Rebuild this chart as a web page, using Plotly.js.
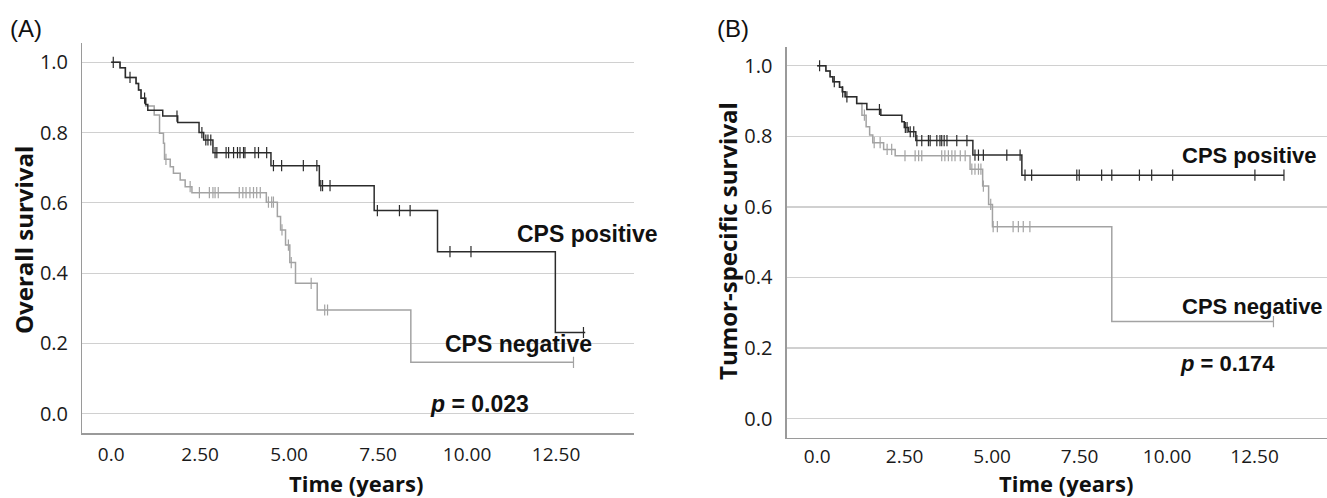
<!DOCTYPE html>
<html>
<head>
<meta charset="utf-8">
<script src="https://cdn.plot.ly/plotly-3.0.1.min.js"></script>
<style>html,body{margin:0;padding:0;background:#fff;}#chart{width:1327px;height:498px;}</style>
</head>
<body>
<div id="chart"></div>
<script>
// ---------- Panel A: Overall survival ----------
var posA_time = [0, 0.25, 0.40, 0.70, 0.77, 0.84, 0.97, 1.03, 1.45, 1.87, 2.47, 2.60, 2.86, 4.49, 5.85, 7.39, 9.17, 12.48, 13.32];
var posA_surv = [1.0, 0.985, 0.957, 0.940, 0.921, 0.898, 0.880, 0.864, 0.847, 0.829, 0.800, 0.779, 0.743, 0.706, 0.649, 0.578, 0.461, 0.231, 0.231];
var posA_cens = [0.06, 0.53, 0.94, 1.85, 2.55, 2.66, 2.72, 2.80, 2.92, 2.97, 3.23, 3.30, 3.44, 3.55, 3.62, 3.72, 3.76, 4.04, 4.14, 4.37, 4.56, 4.79, 5.40, 5.78, 5.89, 5.94, 6.15, 7.48, 8.10, 8.40, 9.52, 10.11, 13.27];

var negA_time = [0, 0.25, 0.40, 0.70, 0.77, 0.84, 0.97, 1.21, 1.36, 1.47, 1.50, 1.66, 1.75, 1.94, 2.08, 2.27, 4.36, 4.67, 4.76, 4.90, 5.02, 5.18, 5.79, 8.42, 13.0];
var negA_surv = [1.0, 0.985, 0.957, 0.940, 0.921, 0.898, 0.876, 0.850, 0.798, 0.770, 0.724, 0.703, 0.684, 0.665, 0.646, 0.629, 0.602, 0.561, 0.523, 0.480, 0.430, 0.371, 0.295, 0.146, 0.146];
var negA_cens = [1.54, 2.22, 2.48, 2.76, 2.86, 2.92, 3.01, 3.60, 3.70, 3.79, 3.90, 4.00, 4.09, 4.19, 4.42, 4.51, 4.56, 4.80, 4.98, 5.06, 5.62, 6.00, 6.08, 12.99];

// ---------- Panel B: Tumor-specific survival ----------
var posB_time = [0, 0.25, 0.37, 0.45, 0.64, 0.72, 0.80, 1.13, 1.42, 1.82, 2.42, 2.49, 2.61, 2.82, 4.45, 5.85, 13.34];
var posB_surv = [1.0, 0.985, 0.969, 0.955, 0.939, 0.926, 0.912, 0.893, 0.876, 0.860, 0.841, 0.825, 0.813, 0.788, 0.747, 0.690, 0.690];
var posB_cens = [0.07, 0.49, 0.73, 0.85, 1.78, 2.52, 2.57, 2.66, 2.76, 2.85, 2.99, 3.18, 3.23, 3.42, 3.51, 3.56, 3.63, 3.71, 3.99, 4.28, 4.51, 4.61, 4.75, 5.42, 5.80, 5.94, 6.13, 7.42, 7.49, 8.13, 8.42, 9.21, 9.56, 10.16, 12.51, 13.34];

var negB_time = [0, 0.25, 0.37, 0.45, 0.64, 0.72, 0.80, 1.13, 1.28, 1.40, 1.50, 1.59, 1.90, 2.23, 4.37, 4.73, 4.90, 5.01, 8.42, 13.04];
var negB_surv = [1.0, 0.985, 0.969, 0.955, 0.939, 0.926, 0.912, 0.893, 0.860, 0.827, 0.804, 0.782, 0.763, 0.745, 0.707, 0.659, 0.607, 0.544, 0.275, 0.275];
var negB_cens = [1.35, 1.63, 1.80, 2.00, 2.13, 2.51, 2.80, 2.90, 2.99, 3.56, 3.65, 3.75, 3.85, 3.94, 4.09, 4.23, 4.42, 4.51, 4.61, 4.68, 4.75, 4.96, 5.03, 5.15, 5.60, 5.75, 5.89, 6.08, 13.04];

var xTickVals = [0, 2.5, 5, 7.5, 10, 12.5];
var xTickText = ['0.0', '2.50', '5.00', '7.50', '10.00', '12.50'];
var yTickVals = [0, 0.2, 0.4, 0.6, 0.8, 1.0];
var yTickText = ['0.0', '0.2', '0.4', '0.6', '0.8', '1.0'];

var groupNames = ['CPS positive', 'CPS negative'];
var pValues = ['0.023', '0.174'];

// ---------- helpers ----------
function stepValue(times, surv, t) {
  var v = surv[0];
  for (var i = 0; i < times.length; i++) { if (times[i] <= t) v = surv[i]; }
  return v;
}
var BLACK = '#2b2b2b', GRAY = '#a3a3a3';
function curve(times, surv, cens, color, xa, ya, name) {
  return [
    {x: times, y: surv, xaxis: xa, yaxis: ya, mode: 'lines', line: {shape: 'hv', color: color, width: 1.5}, name: name, hoverinfo: 'skip'},
    {x: cens, y: cens.map(function (t) { return stepValue(times, surv, t); }), xaxis: xa, yaxis: ya, mode: 'markers',
     marker: {symbol: 'line-ns-open', size: 8, color: color, line: {color: color, width: 1.2}}, name: name + ' censored', hoverinfo: 'skip'}
  ];
}

var data = [].concat(
  curve(negA_time, negA_surv, negA_cens, GRAY, 'x', 'y', groupNames[1]),
  curve(posA_time, posA_surv, posA_cens, BLACK, 'x', 'y', groupNames[0]),
  curve(negB_time, negB_surv, negB_cens, GRAY, 'x2', 'y2', groupNames[1]),
  curve(posB_time, posB_surv, posB_cens, BLACK, 'x2', 'y2', groupNames[0])
);

var W = 1327, H = 498;
function px(x) { return x / W; }
function py(y) { return (H - y) / H; }

var tickFont = {family: 'Open Sans, sans-serif', size: 20, color: '#1a1a1a'};
var xTickFont = {family: 'Open Sans, sans-serif', size: 19, color: '#1a1a1a'};
function xAxis(domain, range, standoff) {
  return {domain: domain, range: range, tickvals: xTickVals, ticktext: xTickText, showgrid: false, zeroline: false,
    showline: true, linecolor: '#9a9a9a', linewidth: 1.3, ticks: '', ticklabelstandoff: standoff, tickfont: xTickFont, fixedrange: true};
}
function yAxis(domain, range, anchor) {
  return {domain: domain, range: range, anchor: anchor, tickvals: yTickVals, ticktext: yTickText, showgrid: true, gridcolor: '#d0d0d0', gridwidth: 1.2,
    zeroline: false, showline: true, linecolor: '#9a9a9a', linewidth: 1.3, ticks: '', ticklabelstandoff: 9, tickfont: tickFont, fixedrange: true};
}

var labFontA = {family: 'Liberation Sans, Arial, sans-serif', size: 23, color: '#111'};
var labFontB = {family: 'Liberation Sans, Arial, sans-serif', size: 22, color: '#111'};
var titleFont = {family: 'Open Sans, sans-serif', size: 24, color: '#111'};
var xTitleFont = {family: 'Open Sans, sans-serif', size: 22, color: '#111'};
var panelFont = {family: 'Liberation Sans, Arial, sans-serif', size: 24, color: '#111'};
function ann(text, x, y, font, opts) {
  var a = {text: text, xref: 'paper', yref: 'paper', x: px(x), y: py(y), xanchor: 'left', yanchor: 'middle', showarrow: false, font: font};
  for (var k in (opts || {})) a[k] = opts[k];
  return a;
}

var layout = {
  width: W, height: H, margin: {l: 0, r: 0, t: 0, b: 0},
  paper_bgcolor: '#fff', plot_bgcolor: '#fff', showlegend: false,
  xaxis: xAxis([px(82.3), px(634)], [-0.81, 14.69], 4),
  yaxis: yAxis([py(433.3), py(42.7)], [-0.056, 1.056], 'x'),
  xaxis2: Object.assign(xAxis([px(786.7), 1], [-0.87, 14.57], 1), {anchor: 'y2'}),
  yaxis2: yAxis([py(437.7), py(46.7)], [-0.054, 1.054], 'x2'),
  annotations: [
    ann('(A)', 8, 28, panelFont),
    ann('(B)', 715, 28, panelFont),
    ann('<b>Overall survival</b>', 23, 240, titleFont, {textangle: -90, xanchor: 'center'}),
    ann('<b>Tumor-specific survival</b>', 727, 241, titleFont, {textangle: -90, xanchor: 'center'}),
    ann('<b>Time (years)</b>', 356, 499, xTitleFont, {xanchor: 'center', yanchor: 'bottom', borderpad: 0}),
    ann('<b>Time (years)</b>', 1066, 499, xTitleFont, {xanchor: 'center', yanchor: 'bottom', borderpad: 0}),
    ann('<b>' + groupNames[0] + '</b>', 515, 234, labFontA),
    ann('<b>' + groupNames[1] + '</b>', 443, 344, labFontA),
    ann('<b><i>p</i> = ' + pValues[0] + '</b>', 428, 404, labFontA),
    ann('<b>' + groupNames[0] + '</b>', 1180, 155, labFontB),
    ann('<b>' + groupNames[1] + '</b>', 1180, 306, labFontB),
    ann('<b><i>p</i> = ' + pValues[1] + '</b>', 1178, 363, labFontB)
  ]
};

Plotly.newPlot('chart', data, layout, {staticPlot: true, displayModeBar: false});
</script>
</body>
</html>
